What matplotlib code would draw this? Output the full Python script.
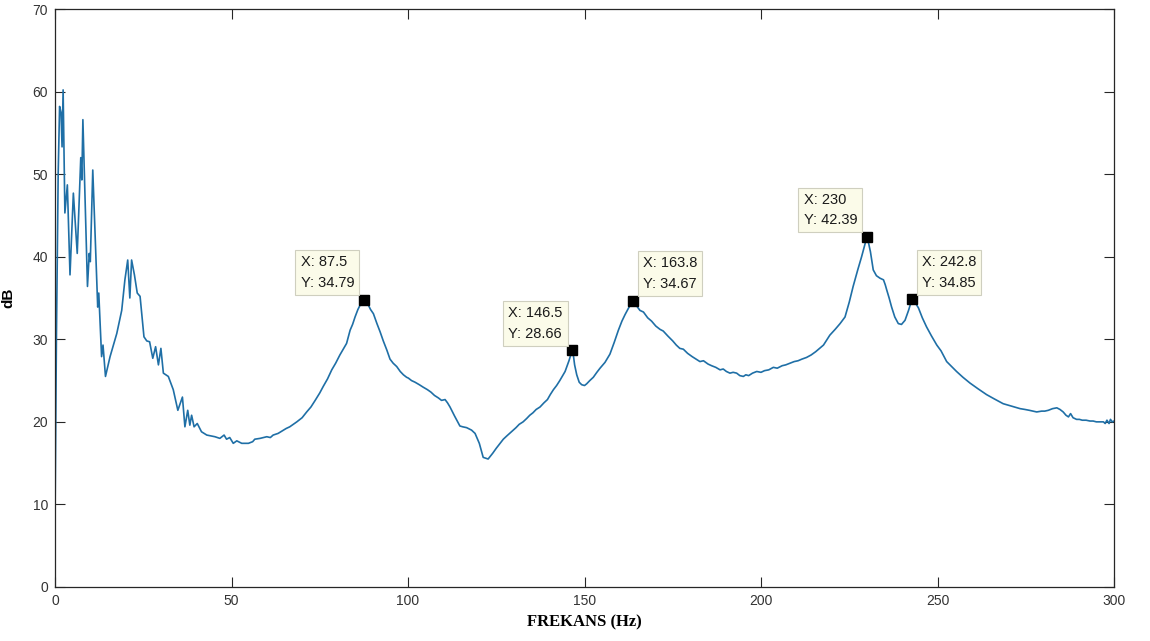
import matplotlib
matplotlib.use("Agg")
import matplotlib.pyplot as plt

# Frequency (Hz) and level (dB)
freq = [0.0, 0.4, 0.9, 1.3, 1.7, 2.0, 2.3, 2.8, 3.5, 4.25, 5.2, 6.3, 7.3, 7.6, 7.9,
        9.2, 9.7, 10.0, 10.7, 12.1, 12.4, 13.2, 13.6, 14.3,
        15.6, 17.5, 18.9, 19.8, 20.6, 21.2, 21.7, 22.5, 23.3, 24.1, 25.2, 26.0, 26.8,
        27.7, 28.5, 29.3, 30.0, 30.7, 32.1, 33.5, 34.8, 36.1, 36.8, 37.6, 38.2, 38.7,
        39.4, 40.3, 41.5, 43.0, 44.2, 45.3, 46.7, 47.9, 48.6, 49.5, 50.5, 51.5, 52.9,
        54.8, 56.0, 56.6, 58.1, 60.0, 61.0, 61.8, 63.2, 64.7, 65.5, 66.5, 68.5, 70.0,
        71.3, 72.5, 73.7, 75.0, 76.0, 77.2, 78.4, 79.5, 80.7, 81.8, 82.6, 83.6, 84.3,
        85.0, 85.8, 86.5, 87.5, 88.0, 88.7, 89.4, 90.2, 91.2, 92.1, 93.0, 94.0, 94.9,
        95.8, 96.8, 97.8, 98.7, 99.6, 100.1, 101.0, 102.0, 103.2, 104.3, 105.5, 106.5,
        107.5, 108.6, 109.5, 110.5, 111.2, 111.9, 113.2, 114.7, 115.5, 116.6,
        118.0, 119.0, 120.2, 121.3, 122.7, 124.0, 125.0, 126.1, 127.0, 128.0, 129.8,
        130.6, 131.5, 132.6, 133.6, 134.5, 135.4, 136.3, 137.4, 138.5, 139.5, 140.3,
        141.2, 142.1, 143.0, 143.8, 144.5, 145.1, 145.6, 146.1, 146.5, 146.9, 147.2,
        147.8, 148.5, 149.2, 150.0, 150.6, 151.5, 152.5, 153.5, 154.4, 155.8, 157.2,
        158.4, 159.6, 160.6, 161.5, 162.5, 163.2, 163.8, 164.5, 165.7, 166.7, 167.9,
        169.0, 170.2, 171.4, 172.3, 173.6, 175.0, 176.0, 177.0, 178.0, 179.2, 180.5,
        181.6, 182.7, 183.7, 185.0, 186.0, 187.2, 188.4, 189.3, 190.2, 191.2, 192.1,
        193.1, 194.0, 195.0, 195.7, 196.5, 197.6, 198.8, 200.0, 201.0, 202.2, 203.5,
        204.6, 206.0, 207.0, 208.2, 209.4, 210.5, 211.6, 212.9, 214.2, 215.5, 216.6,
        217.7, 218.6, 219.5, 221.0, 222.4, 223.8, 225.0, 226.1, 227.4, 228.5, 229.3,
        230.0, 230.5, 231.0, 231.8, 232.7, 233.7, 234.7, 235.2, 235.6, 236.3, 237.0,
        237.9, 238.9, 239.8, 240.8, 241.8, 242.3, 242.8, 243.6, 244.6, 245.7, 246.9,
        248.3, 249.8, 251.0, 252.6, 254.0, 255.4, 257.2, 259.2, 261.5, 263.9, 266.0,
        268.6, 271.0, 273.4, 274.8, 276.0, 277.0, 278.1, 279.5, 280.4, 281.4, 282.6,
        283.8, 284.7, 285.6, 286.4, 287.1, 287.7, 288.4, 289.4, 290.2, 291.0, 292.1,
        293.2, 294.1, 295.0, 296.0, 297.0, 297.5, 298.0, 298.6, 299.0, 299.5, 300.0]
level = [8.1, 30.0, 50.0, 58.2, 57.5, 53.3, 60.2, 45.3, 48.7, 37.8, 47.7, 40.4, 52.0, 49.3, 56.6,
         36.4, 40.4, 39.4, 50.5, 33.9, 35.6, 27.9, 29.3, 25.5,
         27.9, 30.7, 33.5, 37.2, 39.6, 35.0, 39.6, 37.8, 35.6, 35.2, 30.3, 29.8, 29.7,
         27.7, 29.1, 26.9, 28.9, 25.9, 25.5, 23.9, 21.4, 23.0, 19.4, 21.4, 19.6, 20.8,
         19.4, 19.8, 18.8, 18.4, 18.3, 18.2, 18.0, 18.4, 17.9, 18.1, 17.4, 17.7, 17.4,
         17.4, 17.6, 17.9, 18.0, 18.2, 18.1, 18.4, 18.6, 19.0, 19.2, 19.4, 20.0, 20.5,
         21.2, 21.8, 22.6, 23.5, 24.3, 25.2, 26.3, 27.1, 28.1, 28.9, 29.5, 31.1, 31.8,
         32.7, 33.6, 34.2, 34.79, 34.6, 34.2, 33.6, 33.1, 31.9, 30.9, 29.8, 28.7, 27.6,
         27.1, 26.7, 26.1, 25.7, 25.4, 25.3, 25.0, 24.8, 24.5, 24.2, 23.9, 23.6,
         23.2, 22.9, 22.6, 22.7, 22.3, 21.8, 20.7, 19.5, 19.4, 19.3,
         19.0, 18.6, 17.4, 15.7, 15.5, 16.2, 16.8, 17.4, 17.9, 18.3, 19.0,
         19.3, 19.7, 20.0, 20.4, 20.8, 21.1, 21.5, 21.8, 22.3, 22.7, 23.3,
         23.9, 24.4, 25.0, 25.6, 26.1, 26.8, 27.4, 28.1, 28.66, 27.9, 26.9,
         25.7, 24.8, 24.5, 24.4, 24.6, 25.0, 25.4, 26.0, 26.5, 27.2, 28.2,
         29.6, 31.1, 32.2, 33.0, 33.8, 34.3, 34.67, 34.2, 33.5, 33.3, 32.6,
         32.2, 31.6, 31.2, 31.0, 30.4, 29.8, 29.3, 28.9, 28.8, 28.3, 27.9,
         27.6, 27.3, 27.4, 27.0, 26.8, 26.6, 26.3, 26.4, 26.1, 25.9, 26.0,
         25.9, 25.6, 25.5, 25.7, 25.6, 25.9, 26.1, 26.0, 26.2, 26.3, 26.6,
         26.5, 26.8, 26.9, 27.1, 27.3, 27.4, 27.6, 27.8, 28.1, 28.5, 28.9,
         29.3, 29.9, 30.5, 31.2, 31.9, 32.7, 34.5, 36.4, 38.4, 40.0, 41.3,
         42.39, 41.6, 40.6, 38.4, 37.7, 37.4, 37.2, 36.6, 36.0, 35.0, 33.9,
         32.7, 31.9, 31.8, 32.3, 33.5, 34.2, 34.85, 34.5, 33.8, 32.6, 31.5,
         30.4, 29.3, 28.6, 27.3, 26.7, 26.1, 25.4, 24.7, 24.0, 23.3, 22.8,
         22.2, 21.9, 21.6, 21.5, 21.4, 21.3, 21.2, 21.3, 21.3, 21.4, 21.6,
         21.7, 21.5, 21.2, 20.8, 20.6, 21.0, 20.5, 20.3, 20.3, 20.2, 20.2,
         20.1, 20.1, 20.0, 20.0, 20.0, 19.8, 20.2, 19.8, 20.3, 20.0, 20.1]

# Data tips: (x, y, label text, box side)
tip_x = [87.5, 146.5, 163.8, 230.0, 242.8]
tip_y = [34.79, 28.66, 34.67, 42.39, 34.85]
tip_text = ["X: 87.5\nY: 34.79", "X: 146.5\nY: 28.66", "X: 163.8\nY: 34.67",
            "X: 230\nY: 42.39", "X: 242.8\nY: 34.85"]
tip_side = ["left", "left", "right", "left", "right"]

x_ticks = [0, 50, 100, 150, 200, 250, 300]
y_ticks = [0, 10, 20, 30, 40, 50, 60, 70]

fig = plt.figure(figsize=(11.5, 6.41), dpi=100)
ax = fig.add_axes([55 / 1150, 1 - 587 / 641, (1114 - 55) / 1150, (587 - 9) / 641])

ax.plot(freq, level, color="#1f6fa6", linewidth=1.2)
ax.plot(tip_x, tip_y, linestyle="none", marker="s", markersize=7,
        color="black")

for x, y, t, side in zip(tip_x, tip_y, tip_text, tip_side):
    if side == "left":
        off = (-7, 7)
        ha = "right"
    else:
        off = (7, 7)
        ha = "left"
    ax.annotate(t, xy=(x, y), xytext=off, textcoords="offset points",
                ha=ha, va="bottom", multialignment="left", fontsize=10.5,
                family="Liberation Sans", color="#1a1a1a", linespacing=1.6,
                bbox=dict(boxstyle="square,pad=0.35", fc="#fbfbe9", ec="#cfcfbf",
                          lw=0.8))

ax.set_xlim(0, 300)
ax.set_ylim(0, 70)
ax.set_xticks(x_ticks)
ax.set_yticks(y_ticks)
ax.tick_params(direction="in", length=7.5, width=0.8, colors="#262626",
               top=True, right=True, labelsize=10, pad=5)
for lab in ax.get_xticklabels() + ax.get_yticklabels():
    lab.set_family("Liberation Sans")
    lab.set_color("#333333")
for s in ax.spines.values():
    s.set_color("#262626")
    s.set_linewidth(0.9)

ax.set_xlabel("FREKANS (Hz)", family="Liberation Serif", fontweight="bold",
              fontsize=12, color="black", labelpad=5)
ax.set_ylabel("dB", family="Liberation Sans", fontweight="bold", fontsize=11,
              color="black", labelpad=12)

fig.savefig("out.png", dpi=100)
